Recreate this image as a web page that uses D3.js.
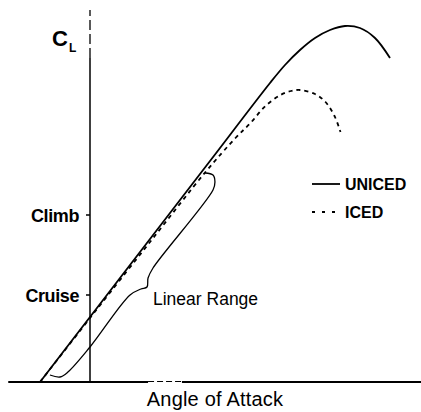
<!DOCTYPE html>
<html>
<head>
<meta charset="utf-8">
<script src="https://cdn.jsdelivr.net/npm/d3@7"></script>
<style>
  body { margin: 0; background: #fff; }
  text { font-family: "Liberation Sans", Arial, sans-serif; fill: #000; }
</style>
</head>
<body>
<div id="chart"></div>
<script>
// lift curve data (angle of attack in deg, lift coefficient)
let unicedAlpha = [-3.33, 0, 4, 8, 12, 13, 14, 15, 16, 17, 18, 19, 20];
let unicedCL = [0, 0.325, 0.715, 1.105, 1.495, 1.585, 1.66, 1.72, 1.76, 1.78, 1.77, 1.72, 1.62];
let icedAlpha = [-3.33, 0, 4, 7.7, 9.7, 10.7, 11.7, 12.7, 13.4, 14, 15, 15.7, 16.3, 16.7];
let icedCL = [0, 0.32, 0.7, 1.05, 1.22, 1.295, 1.38, 1.435, 1.455, 1.46, 1.44, 1.4, 1.33, 1.25];

// "Linear Range" brace
let braceAlpha = [-2.67, -2, -1.47, 0, 2.67, 3.4, 3.8, 3.87, 4.2, 8.2, 8.33, 8.2, 7.67];
let braceCL = [0.035, 0.025, 0.05, 0.175, 0.435, 0.465, 0.475, 0.52, 0.57, 0.96, 1.0, 1.035, 1.045];

let tickNames = ["Cruise", "Climb"];
let tickValues = [0.435, 0.835];
let seriesNames = ["UNICED", "ICED"];

let width = 421;
let height = 412;

let x = d3.scaleLinear().domain([-6, 22]).range([0, 420]);
let y = d3.scaleLinear().domain([0, 1.8]).range([382, 22]);

let svg = d3
  .select("#chart")
  .append("svg")
  .attr("width", width)
  .attr("height", height);

// axes
svg
  .append("line")
  .attr("x1", x(-5.45))
  .attr("x2", x(3.87))
  .attr("y1", y(0))
  .attr("y2", y(0))
  .attr("stroke", "#000")
  .attr("stroke-width", 2);
svg
  .append("line")
  .attr("x1", x(3.87))
  .attr("x2", x(6.13))
  .attr("y1", y(0) - 0.5)
  .attr("y2", y(0) - 0.5)
  .attr("stroke", "#000")
  .attr("stroke-width", 1.2)
  .attr("stroke-dasharray", "6,3");
svg
  .append("line")
  .attr("x1", x(6.13))
  .attr("x2", width)
  .attr("y1", y(0))
  .attr("y2", y(0))
  .attr("stroke", "#000")
  .attr("stroke-width", 2);

svg
  .append("line")
  .attr("x1", x(0))
  .attr("x2", x(0))
  .attr("y1", y(0))
  .attr("y2", y(1.62))
  .attr("stroke", "#000")
  .attr("stroke-width", 1.5);
svg
  .append("line")
  .attr("x1", x(0))
  .attr("x2", x(0))
  .attr("y1", y(1.62))
  .attr("y2", y(1.86))
  .attr("stroke", "#000")
  .attr("stroke-width", 1.3)
  .attr("stroke-dasharray", "10,4");

// y ticks
let ticks = svg
  .selectAll(".tick")
  .data(tickValues)
  .enter()
  .append("g")
  .attr("class", "tick");
ticks
  .append("line")
  .attr("x1", x(0) - 4)
  .attr("x2", x(0))
  .attr("y1", d => y(d))
  .attr("y2", d => y(d))
  .attr("stroke", "#000")
  .attr("stroke-width", 1.5);
ticks
  .append("text")
  .attr("x", x(0) - 11)
  .attr("y", d => y(d) + 6.5)
  .attr("text-anchor", "end")
  .style("font-size", "18px")
  .style("font-weight", "bold")
  .style("letter-spacing", "-0.4px")
  .text((d, i) => tickNames[i]);

// C_L label
svg
  .append("text")
  .attr("x", 52)
  .attr("y", 46)
  .style("font-size", "22px")
  .style("font-weight", "bold")
  .text("C");
svg
  .append("text")
  .attr("x", 69)
  .attr("y", 52)
  .style("font-size", "12px")
  .style("font-weight", "bold")
  .text("L");

// curves
let line = d3
  .line()
  .x(d => x(d[0]))
  .y(d => y(d[1]))
  .curve(d3.curveCatmullRom);

svg
  .append("path")
  .datum(unicedAlpha.map((a, i) => [a, unicedCL[i]]))
  .attr("d", line)
  .attr("fill", "none")
  .attr("stroke", "#000")
  .attr("stroke-width", 1.8);

svg
  .append("path")
  .datum(icedAlpha.map((a, i) => [a, icedCL[i]]))
  .attr("d", line)
  .attr("fill", "none")
  .attr("stroke", "#000")
  .attr("stroke-width", 1.8)
  .attr("stroke-dasharray", "4,4");

svg
  .append("path")
  .datum(braceAlpha.map((a, i) => [a, braceCL[i]]))
  .attr("d", line)
  .attr("fill", "none")
  .attr("stroke", "#000")
  .attr("stroke-width", 1.3);

svg
  .append("text")
  .attr("x", x(4.2))
  .attr("y", y(0.385))
  .style("font-size", "17.5px")
  .text("Linear Range");

// legend
let legend = svg
  .selectAll(".legend")
  .data(seriesNames)
  .enter()
  .append("g")
  .attr("class", "legend")
  .attr("transform", (d, i) => "translate(312," + (184 + i * 28) + ")");
legend
  .append("line")
  .attr("x1", 0)
  .attr("x2", (d, i) => (i == 0 ? 28 : 23))
  .attr("stroke", "#000")
  .attr("stroke-width", 1.8)
  .attr("stroke-dasharray", (d, i) => (i == 0 ? null : "3,7"));
legend
  .append("text")
  .attr("x", 33)
  .attr("y", 5.5)
  .style("font-size", "16px")
  .style("font-weight", "bold")
  .text(d => d);

// x label
svg
  .append("text")
  .attr("x", 215)
  .attr("y", 406)
  .attr("text-anchor", "middle")
  .style("font-size", "20px")
  .style("letter-spacing", "0.2px")
  .text("Angle of Attack");
</script>
</body>
</html>
